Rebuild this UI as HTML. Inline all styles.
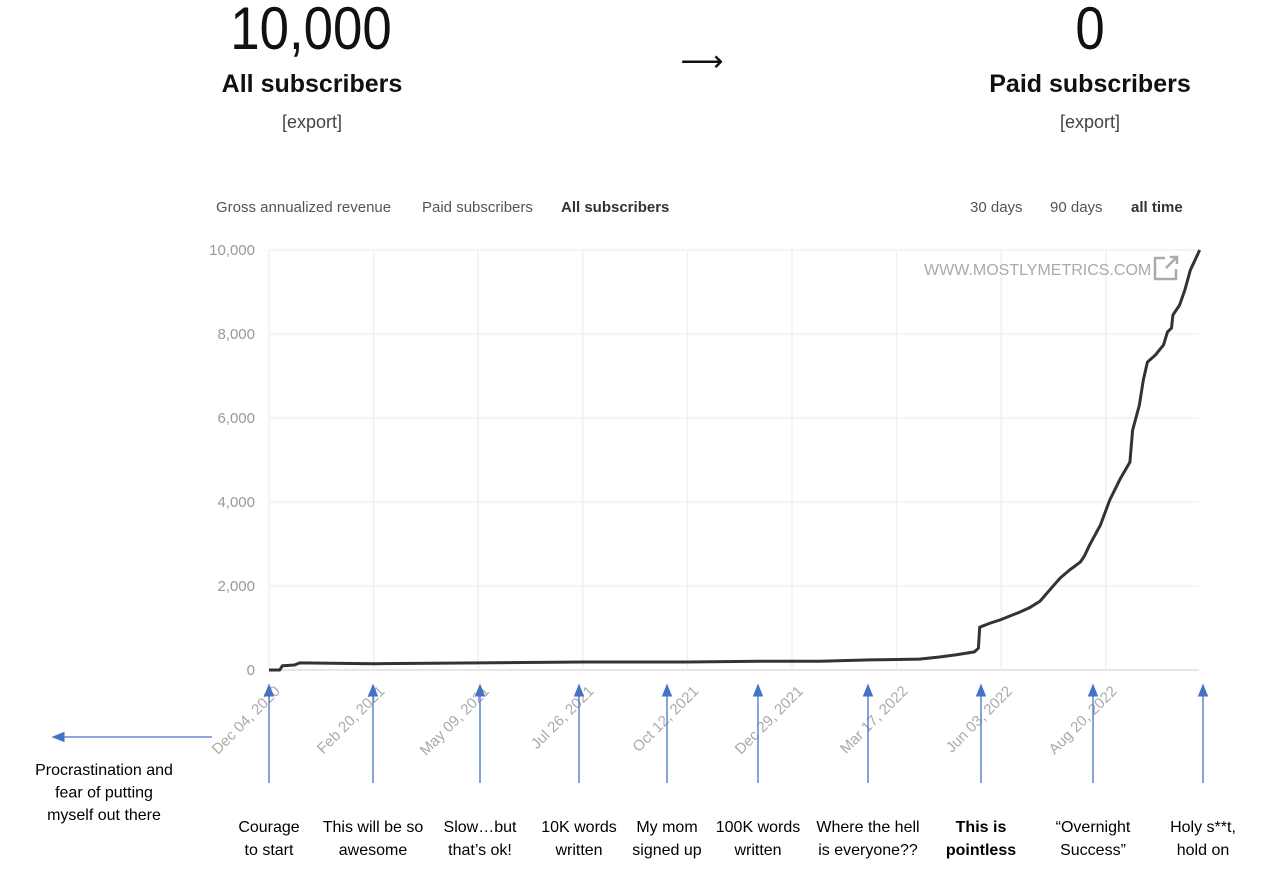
<!DOCTYPE html>
<html><head><meta charset="utf-8"><style>
body{margin:0;width:1284px;height:878px;background:#fff;font-family:"Liberation Sans",sans-serif;position:relative;overflow:hidden}
.a{position:absolute;white-space:nowrap}
.c{transform:translateX(-50%);text-align:center}
.big{font-size:60px;color:#111;transform:translateX(-50%) scaleX(0.88);-webkit-text-stroke:0}
</style></head><body>
<div class="a big" style="left:311px;top:-6px">10,000</div>
<div class="a c" style="left:312px;top:70px;font-size:25px;font-weight:bold;color:#111">All subscribers</div>
<div class="a c" style="left:312px;top:112px;font-size:18px;color:#444">[export]</div>
<div class="a c" style="left:702px;top:44px;font-size:30px;color:#111">⟶</div>
<div class="a big" style="left:1090px;top:-6px">0</div>
<div class="a c" style="left:1090px;top:70px;font-size:25px;font-weight:bold;color:#111">Paid subscribers</div>
<div class="a c" style="left:1090px;top:112px;font-size:18px;color:#444">[export]</div>
<div class="a" style="left:216px;top:199px;font-size:15px;color:#555">Gross annualized revenue</div>
<div class="a" style="left:422px;top:199px;font-size:15px;color:#555">Paid subscribers</div>
<div class="a" style="left:561px;top:199px;font-size:15px;font-weight:bold;color:#333">All subscribers</div>
<div class="a" style="left:970px;top:199px;font-size:15px;color:#555">30 days</div>
<div class="a" style="left:1050px;top:199px;font-size:15px;color:#555">90 days</div>
<div class="a" style="left:1131px;top:199px;font-size:15px;font-weight:bold;color:#333">all time</div>
<svg id="chart" width="1284" height="878" style="position:absolute;left:0;top:0">
<defs><marker id="ah" markerWidth="10" markerHeight="10" refX="5" refY="5" orient="auto"><path d="M0,1 L10,5 L0,9 z" fill="#4472c4"/></marker></defs>
<g id="grid"></g><g id="line"></g><g id="ann"></g>
<text x="924" y="275" font-size="16" fill="#aaa" font-family="Liberation Sans">WWW.MOSTLYMETRICS.COM</text>
<g fill="none" stroke="#aaa" stroke-width="2.5"><path d="M1165,258 h-10 v21 h21 v-10"/><path d="M1166,268 L1177,257 M1170,257 h7 v7"/></g>
</svg>
<script>
const days=[0,8,10,19,23,78,157,234,312,366,411,448,485,500,512,526,529,530,538,545,560,567,575,582,590,597,605,608,612,620,627,635,642,644,649,652,655,661,667,670,673,674,679,683,687,694];
const subs=[0,0,100,120,170,150,170,190,190,210,210,240,260,310,360,430,520,1020,1120,1190,1380,1480,1640,1900,2190,2380,2570,2710,2980,3450,4050,4570,4950,5710,6300,6900,7330,7500,7740,8050,8140,8450,8690,9050,9520,10000];
const yTicks=[0,2000,4000,6000,8000,10000];
const xTickLabels=["Dec 04, 2020","Feb 20, 2021","May 09, 2021","Jul 26, 2021","Oct 12, 2021","Dec 29, 2021","Mar 17, 2022","Jun 03, 2022","Aug 20, 2022"];
const tickStepDays=78;
const annX=[269,373,480,579,667,758,868,981,1093,1203];
const annText=[["Courage","to start"],["This will be so","awesome"],["Slow…but","that’s ok!"],["10K words","written"],["My mom","signed up"],["100K words","written"],["Where  the hell","is everyone??"],["This is","pointless"],["“Overnight","Success”"],["Holy s**t,","hold on"]];
const NS="http://www.w3.org/2000/svg";
const X0=269,PX_PER_DAY=104.6/78,Y0=670,YH=420,X1=1199;
const xs=d=>X0+d*PX_PER_DAY, ys=v=>Y0-v/10000*YH;
function mk(t,a,p){const e=document.createElementNS(NS,t);for(const k in a)e.setAttribute(k,a[k]);p.appendChild(e);return e;}
const grid=document.getElementById('grid');
yTicks.forEach(v=>{
 const l=mk('line',{x1:X0,x2:X1,y1:ys(v),y2:ys(v),stroke:v?'#f0f0f0':'#ddd','stroke-width':1.5},grid);
 
 
 const t=mk('text',{x:255,y:ys(v)+5,'text-anchor':'end','font-size':15,fill:'#999'},grid);
 t.textContent=v.toLocaleString('en-US');
 
 
});
xTickLabels.forEach((s,i)=>{
 const x=xs(i*tickStepDays);
 const l=mk('line',{x1:x,x2:x,y1:ys(10000),y2:Y0,stroke:'#f0f0f0','stroke-width':1.5},grid);
 
 
 const t=mk('text',{x:x+12,y:692,'text-anchor':'end','font-size':15,fill:'#aaa',transform:`rotate(-45 ${x+12} 692)`},grid);
 t.textContent=s;
 
 
});
const p=mk('path',{d:days.map((d,i)=>(i?'L':'M')+xs(d).toFixed(1)+','+ys(subs[i]).toFixed(1)).join(' '),fill:'none',stroke:'#333','stroke-width':3,'stroke-linejoin':'round'},document.getElementById('line'));


const ann=document.getElementById('ann');
annX.forEach((x,i)=>{
 const l=mk('line',{x1:x,x2:x,y1:783,y2:690,stroke:'#4472c4','stroke-width':1.3,'marker-end':'url(#ah)'},ann);
 
 
 annText[i].forEach((s,j)=>{
  const t=mk('text',{x:x,y:832+j*23,'text-anchor':'middle','font-size':16,fill:'#000','font-weight':i==7?'bold':'normal'},ann);
  t.textContent=s;
  
  
 });
});
const la=mk('line',{x1:212,x2:58,y1:737,y2:737,stroke:'#4472c4','stroke-width':1.3,'marker-end':'url(#ah)'},ann);


["Procrastination and","fear of putting","myself out there"].forEach((s,j)=>{
 const t=mk('text',{x:104,y:775+j*22.5,'text-anchor':'middle','font-size':16,fill:'#000'},ann);
 t.textContent=s;
 
 
});
</script>
</body></html>
